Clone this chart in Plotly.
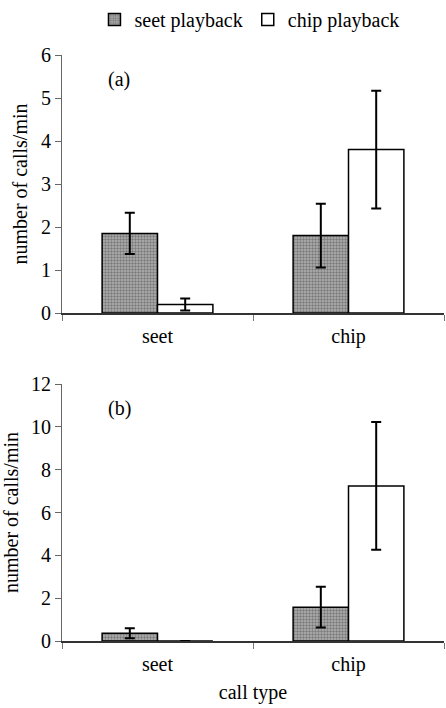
import plotly.graph_objects as go
from plotly.subplots import make_subplots

categories = ["seet", "chip"]
series_names = ["seet playback", "chip playback"]

# panel (a)
a_seet_pb = [1.85, 1.80]
a_seet_pb_err = [0.48, 0.74]
a_chip_pb = [0.20, 3.80]
a_chip_pb_err = [0.14, 1.37]

# panel (b)
b_seet_pb = [0.36, 1.58]
b_seet_pb_err = [0.23, 0.95]
b_chip_pb = [0.0, 7.24]
b_chip_pb_err = [0.0, 2.98]

FONT = "Liberation Serif"
FS = 20

fig = make_subplots(rows=2, cols=1, vertical_spacing=0.1)

seet_marker = dict(color="#a0a0a0", line=dict(color="black", width=1.5),
                   pattern=dict(shape=".", size=3, solidity=0.5,
                                fgcolor="#404040", bgcolor="#b4b4b4"))
chip_marker = dict(color="white", line=dict(color="black", width=1.5))

def err(v):
    return dict(type="data", array=v, color="black", thickness=2, width=5)

fig.add_trace(go.Bar(x=categories, y=a_seet_pb, name=series_names[0], marker=seet_marker,
                     error_y=err(a_seet_pb_err), legendgroup="s"), row=1, col=1)
fig.add_trace(go.Bar(x=categories, y=a_chip_pb, name=series_names[1], marker=chip_marker,
                     error_y=err(a_chip_pb_err), legendgroup="c"), row=1, col=1)
fig.add_trace(go.Bar(x=categories, y=b_seet_pb, name=series_names[0], marker=seet_marker,
                     error_y=err(b_seet_pb_err), showlegend=False, legendgroup="s"), row=2, col=1)
fig.add_trace(go.Bar(x=categories, y=b_chip_pb, name=series_names[1], marker=chip_marker,
                     error_y=err(b_chip_pb_err), showlegend=False, legendgroup="c"), row=2, col=1)

H = 708
fig.update_layout(
    width=446, height=H,
    margin=dict(l=62, r=2, t=0, b=0, autoexpand=False),
    paper_bgcolor="white", plot_bgcolor="white",
    barmode="group", bargap=0.42, bargroupgap=0,
    font=dict(family=FONT, size=FS, color="black"),
    legend=dict(orientation="h", x=0.085, xanchor="left", y=1.0, yanchor="top",
                font=dict(family=FONT, size=FS), itemwidth=30, tracegroupgap=0,
                bgcolor="rgba(0,0,0,0)"),
    showlegend=True,
)

ydom_a = [1 - 313 / H, 1 - 55 / H]
ydom_b = [1 - 641 / H, 1 - 384 / H]

xcommon = dict(type="category", range=[-0.5, 1.5], showline=True, linecolor="#333",
               linewidth=1.5, ticks="outside", tickson="boundaries", ticklen=6,
               tickcolor="#777", showgrid=False, zeroline=False, automargin=False,
               ticklabelstandoff=4, tickfont=dict(family=FONT, size=FS))
fig.update_xaxes(**xcommon)
fig.update_xaxes(row=2, col=1, title=dict(text="call type", font=dict(family=FONT, size=FS), standoff=10))

ycommon = dict(showline=True, linecolor="#666", linewidth=1, ticks="outside", ticklen=6,
               tickcolor="#666", showgrid=False, zeroline=False, automargin=False,
               tickfont=dict(family=FONT, size=FS),
               title=dict(text="number of calls/min", font=dict(family=FONT, size=FS), standoff=8))
fig.update_yaxes(**ycommon)
fig.update_yaxes(row=1, col=1, range=[0, 6], dtick=1, domain=ydom_a)
fig.update_yaxes(row=2, col=1, range=[0, 12], dtick=2, domain=ydom_b)

fig.add_annotation(text="(a)", xref="paper", yref="y domain", x=0.15, y=0.905,
                   showarrow=False, font=dict(family=FONT, size=FS),
                   xanchor="center", yanchor="middle")
fig.add_annotation(text="(b)", xref="paper", yref="y2 domain", x=0.15, y=0.905,
                   showarrow=False, font=dict(family=FONT, size=FS),
                   xanchor="center", yanchor="middle")

fig.write_html("out.html", config={"displayModeBar": False},
               post_script="document.body.style.margin='0';document.body.style.overflow='hidden';")
